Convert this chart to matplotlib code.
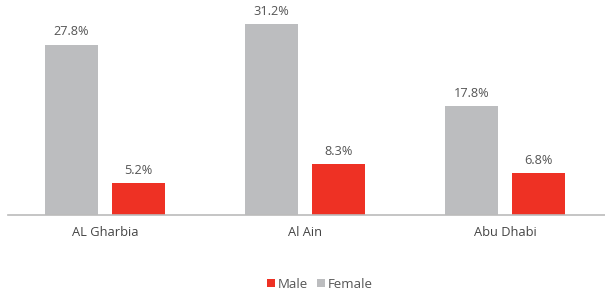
import matplotlib
matplotlib.use("Agg")
import matplotlib.pyplot as plt
import numpy as np

categories = ["AL Gharbia", "Al Ain", "Abu Dhabi"]
female = [27.8, 31.2, 17.8]
male = [5.2, 8.3, 6.8]

plt.rcParams['font.family'] = ['Open Sans', 'DejaVu Sans']

W, H = 605, 296
fig = plt.figure(figsize=(W/100, H/100), dpi=100)
ax = fig.add_axes([8/W, 81/H, (605-8)/W, 215/H])

x = np.arange(len(categories))
bw = 0.265
off = 0.1675
c_f = "#bcbdbf"
c_m = "#ee3124"
bf = ax.bar(x - off, female, bw, color=c_f, label="Female")
bm = ax.bar(x + off, male, bw, color=c_m, label="Male")

for rects, vals in ((bf, female), (bm, male)):
    for r, v in zip(rects, vals):
        ax.annotate(f"{v:.1f}%", (r.get_x() + r.get_width()/2, v),
                    xytext=(0, 4.5), textcoords="offset points",
                    ha="center", va="bottom", fontsize=9.2, color="#555555")

ax.set_xlim(-0.485, 2.5)
ax.set_ylim(0, 35.1)
ax.set_xticks(x)
ax.set_xticklabels(categories, fontsize=9.3, color="#444444")
ax.tick_params(axis="x", length=0, pad=8)
ax.set_yticks([])
for s in ("top", "right", "left"):
    ax.spines[s].set_visible(False)
ax.spines["bottom"].set_color("#bbbbbb")
ax.spines["bottom"].set_linewidth(1.2)

leg = fig.legend(handles=[bm, bf], labels=["Male", "Female"], loc="center",
                 bbox_to_anchor=(320/W, 1 - 284/H), ncol=2, frameon=False,
                 fontsize=9.5, handlelength=0.6, handleheight=0.6,
                 handletextpad=0.2, columnspacing=0.7)
for t in leg.get_texts():
    t.set_color("#555555")

fig.savefig("out.png", dpi=100)
